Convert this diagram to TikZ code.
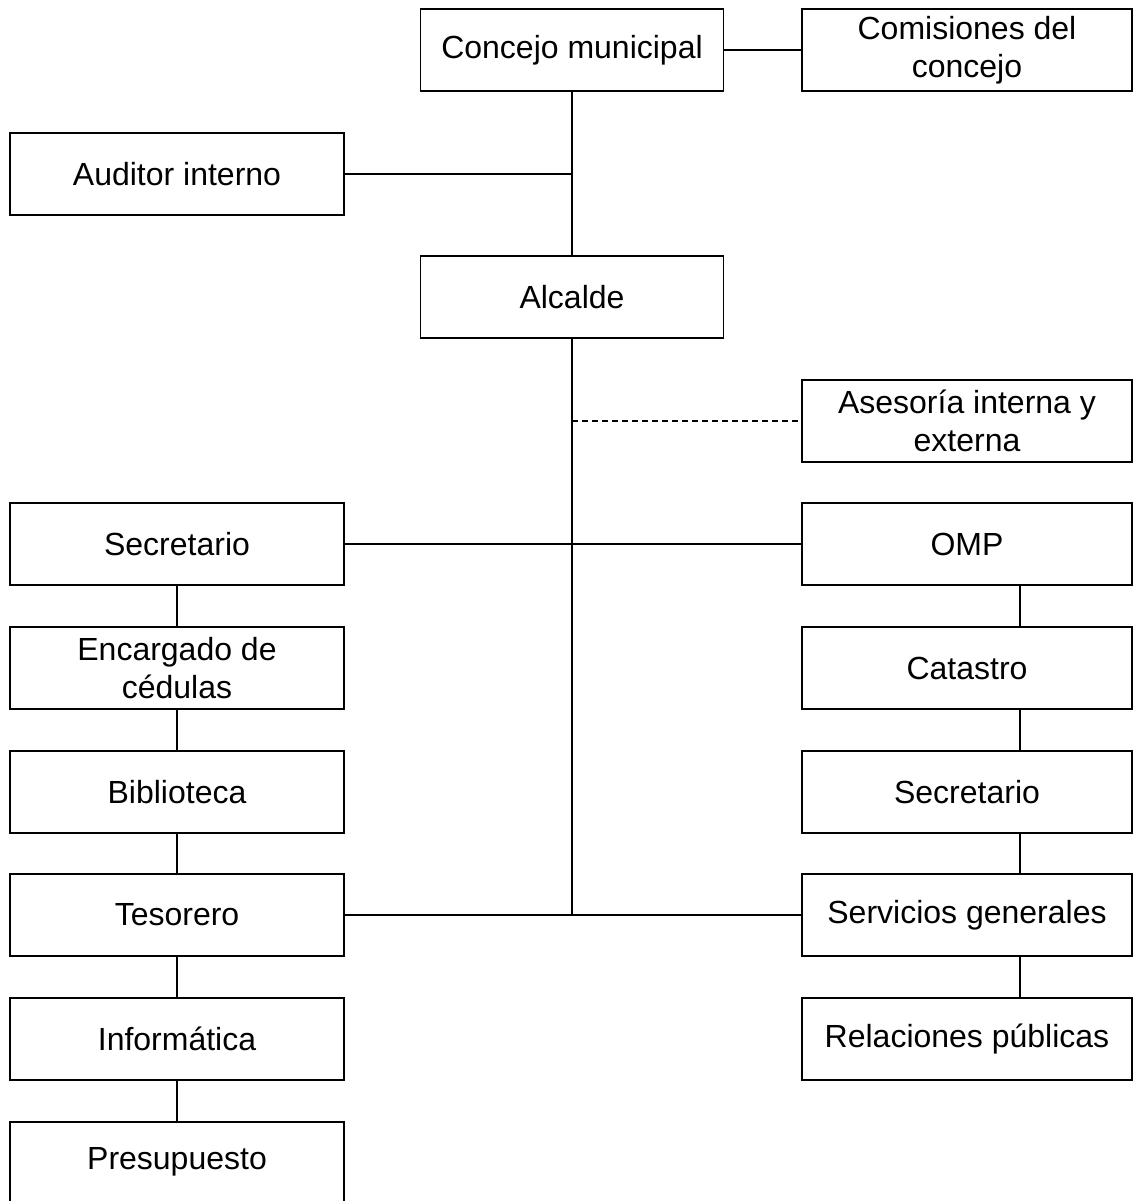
\documentclass[tikz,border=0pt]{standalone}
\usepackage{fontspec}
\setmainfont{Liberation Sans}
\begin{document}
\begin{tikzpicture}[x=1pt,y=-1pt,
  box/.style={draw=black,line width=1.7pt,rectangle,inner sep=0pt,align=center,
    font=\fontsize{32}{38}\selectfont},
  lbox/.style={box,minimum width=334pt,minimum height=82pt},
  rbox/.style={box,minimum width=330pt,minimum height=82pt},
  cbox/.style={box,minimum width=303pt,minimum height=82pt},
  conn/.style={line width=1.5pt},
  dconn/.style={line width=1.2pt,dash pattern=on 6pt off 4pt}]
\useasboundingbox[fill=white] (0,0) rectangle (1134,1201);
\node[cbox] (concejo) at (572,50) {Concejo municipal};
\node[rbox] (comis) at (967,50) {Comisiones del\\concejo};
\node[lbox] (auditor) at (177,174) {Auditor interno};
\node[cbox] (alcalde) at (572,297) {Alcalde};
\node[rbox] (asesoria) at (967,421) {Asesoría interna y\\externa};
\node[lbox] (secL) at (177,544) {Secretario};
\node[rbox] (omp) at (967,544) {OMP};
\node[lbox] (enc) at (177,668) {Encargado de\\cédulas};
\node[rbox] (cat) at (967,668) {Catastro};
\node[lbox] (bib) at (177,792) {Biblioteca};
\node[rbox] (secR) at (967,792) {Secretario};
\node[lbox] (tes) at (177,915) {Tesorero};
\node[rbox] (serv) at (967,915) {Servicios generales};
\node[lbox] (inf) at (177,1039) {Informática};
\node[rbox] (rel) at (967,1039) {Relaciones públicas};
\node[lbox,minimum height=80pt] (pres) at (177,1162) {Presupuesto};
\coordinate (rx) at (1020,0);
\coordinate (jA) at (572,174);
\coordinate (jD) at (572,421);
\coordinate (jB) at (572,915);
% top
\draw[conn] (concejo) -- (comis);
\draw[conn] (concejo) -- (alcalde);
\draw[conn] (auditor) -- (jA);
\draw[conn] (alcalde.south) -- (jB);
\draw[dconn] (jD) -- (asesoria.west);
\draw[conn] (secL) -- (omp);
\draw[conn] (tes.east) -- (serv.west);
% left chain
\draw[conn] (secL) -- (enc);
\draw[conn] (enc) -- (bib);
\draw[conn] (bib) -- (tes);
\draw[conn] (tes) -- (inf);
\draw[conn] (inf) -- (pres);
% right chain
\draw[conn] (omp.south -| rx) -- (cat.north -| rx);
\draw[conn] (cat.south -| rx) -- (secR.north -| rx);
\draw[conn] (secR.south -| rx) -- (serv.north -| rx);
\draw[conn] (serv.south -| rx) -- (rel.north -| rx);
\end{tikzpicture}
\end{document}
